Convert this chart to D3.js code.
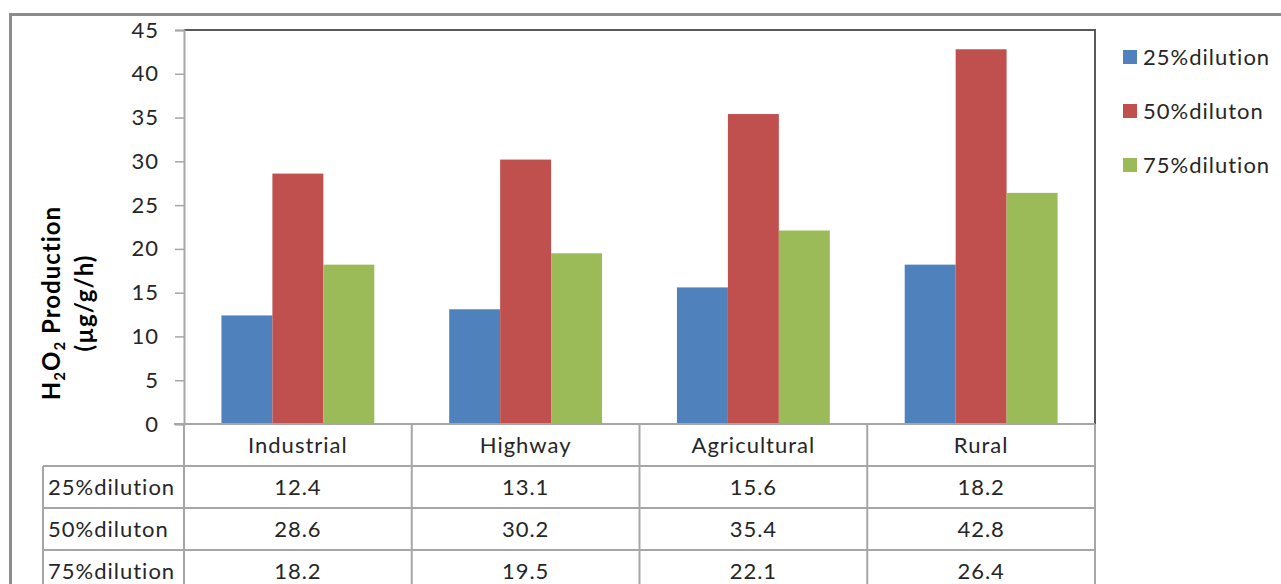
<!DOCTYPE html>
<html>
<head>
<meta charset="utf-8">
<script src="https://cdn.jsdelivr.net/npm/d3@7"></script>
<style>
  body { margin: 0; background: #fff; }
  svg { display: block; font-family: Lato, "Open Sans", sans-serif; }
</style>
</head>
<body>
<svg id="chart" width="1281" height="584"></svg>
<script>
const categories = ["Industrial", "Highway", "Agricultural", "Rural"];
const seriesNames = ["25%dilution", "50%diluton", "75%dilution"];
const seriesColors = ["#4f81bd", "#c0504d", "#9bbb59"];
const dilution25 = [12.4, 13.1, 15.6, 18.2];
const dilution50 = [28.6, 30.2, 35.4, 42.8];
const dilution75 = [18.2, 19.5, 22.1, 26.4];
const yTicks = [0, 5, 10, 15, 20, 25, 30, 35, 40, 45];

const seriesValues = [dilution25, dilution50, dilution75];

const fontSize = 22;
const spacing = 1;
const textColor = "#262626";

const svg = d3.select("#chart");

// outer chart border
svg.append("rect")
    .attr("x", 10.5).attr("y", 14.5)
    .attr("width", 1290).attr("height", 600)
    .attr("fill", "none")
    .attr("stroke", "#8c8c8c")
    .attr("stroke-width", 3);

const plot = { left: 184, right: 1095, top: 30, bottom: 424 };

const x0 = d3.scaleBand()
    .domain(categories)
    .range([plot.left, plot.right]);

const x1 = d3.scaleBand()
    .domain(seriesNames)
    .range([0, x0.bandwidth()])
    .paddingOuter(0.735);

const y = d3.scaleLinear()
    .domain([0, 45])
    .range([plot.bottom, plot.top]);

// bars
const groups = svg.append("g")
    .selectAll("g")
    .data(categories)
    .join("g")
    .attr("transform", d => `translate(${x0(d)},0)`);

groups.selectAll("rect")
    .data((c, i) => seriesNames.map((s, k) => ({ s, k, v: seriesValues[k][i] })))
    .join("rect")
    .attr("x", d => x1(d.s))
    .attr("y", d => y(d.v))
    .attr("width", x1.bandwidth())
    .attr("height", d => y(0) - y(d.v))
    .attr("fill", d => seriesColors[d.k]);

// plot frame (top + right dark)
svg.append("path")
    .attr("d", `M${plot.left},${plot.top}H${plot.right}V${plot.bottom}`)
    .attr("fill", "none")
    .attr("stroke", "#595959")
    .attr("stroke-width", 2);

// y axis
const yAxis = svg.append("g")
    .attr("transform", `translate(${plot.left},0)`)
    .call(d3.axisLeft(y).tickValues(yTicks).tickSize(9).tickPadding(16));
yAxis.select(".domain").attr("stroke", "#a6a6a6").attr("stroke-width", 2);
yAxis.selectAll(".tick line").attr("stroke", "#a6a6a6").attr("stroke-width", 1.5);
yAxis.selectAll(".tick text")
    .attr("font-size", fontSize)
    .attr("letter-spacing", spacing)
    .attr("font-family", "Lato, sans-serif")
    .attr("fill", textColor);

// y axis title
const title = svg.append("text")
    .attr("transform", "translate(0,303) rotate(-90)")
    .attr("text-anchor", "middle")
    .attr("font-weight", "bold")
    .attr("font-size", 24)
    .attr("letter-spacing", 1)
    .attr("fill", "#000");
const t1 = title.append("tspan").attr("x", 0).attr("y", 60);
t1.append("tspan").text("H");
t1.append("tspan").text("2").attr("font-size", 15).attr("dy", 5);
t1.append("tspan").text("O").attr("dy", -5);
t1.append("tspan").text("2").attr("font-size", 15).attr("dy", 5);
t1.append("tspan").text(" Production").attr("dy", -5);
title.append("tspan").attr("x", 0).attr("y", 93).text("(µg/g/h)");

// data table
const rowH = 42;
const tableTop = plot.bottom;
const labelLeft = 43;
const gridColor = "#a6a6a6";
const table = svg.append("g");

const rowLines = d3.range(seriesNames.length + 1).map(i => tableTop + rowH * (i + 1));
table.selectAll("line.h")
    .data(rowLines)
    .join("line")
    .attr("x1", labelLeft).attr("x2", plot.right)
    .attr("y1", d => d).attr("y2", d => d)
    .attr("stroke", gridColor).attr("stroke-width", 2);
table.append("line")
    .attr("x1", 174).attr("x2", plot.right)
    .attr("y1", tableTop).attr("y2", tableTop)
    .attr("stroke", gridColor).attr("stroke-width", 2);

const colLines = categories.map(c => x0(c)).concat([plot.right]);
table.selectAll("line.v")
    .data(colLines)
    .join("line")
    .attr("x1", d => d).attr("x2", d => d)
    .attr("y1", tableTop).attr("y2", 600)
    .attr("stroke", gridColor).attr("stroke-width", 2);
table.append("line")
    .attr("x1", labelLeft).attr("x2", labelLeft)
    .attr("y1", tableTop + rowH).attr("y2", 600)
    .attr("stroke", gridColor).attr("stroke-width", 2);

table.selectAll("text.cat")
    .data(categories)
    .join("text")
    .attr("x", d => x0(d) + x0.bandwidth() / 2)
    .attr("y", tableTop + rowH / 2 + 8)
    .attr("text-anchor", "middle")
    .attr("font-size", fontSize)
    .attr("letter-spacing", spacing)
    .attr("fill", textColor)
    .text(d => d);

seriesNames.forEach((s, k) => {
    const cy = tableTop + rowH * (k + 1) + rowH / 2 + 8;
    table.append("text")
        .attr("x", labelLeft + 5)
        .attr("y", cy)
        .attr("font-size", fontSize)
        .attr("letter-spacing", spacing)
        .attr("fill", textColor)
        .text(s);
    table.selectAll(null)
        .data(categories)
        .join("text")
        .attr("x", d => x0(d) + x0.bandwidth() / 2)
        .attr("y", cy)
        .attr("text-anchor", "middle")
        .attr("font-size", fontSize)
        .attr("letter-spacing", spacing)
        .attr("fill", textColor)
        .text((d, i) => seriesValues[k][i].toFixed(1));
});

// legend
const legend = svg.append("g")
    .selectAll("g")
    .data(seriesNames)
    .join("g")
    .attr("transform", (d, i) => `translate(1123,${57 + i * 54})`);
legend.append("rect")
    .attr("x", 0).attr("y", -7)
    .attr("width", 14).attr("height", 14)
    .attr("fill", (d, i) => seriesColors[i]);
legend.append("text")
    .attr("x", 20).attr("y", 8)
    .attr("font-size", fontSize)
    .attr("letter-spacing", spacing)
    .attr("fill", textColor)
    .text(d => d);
</script>
</body>
</html>
